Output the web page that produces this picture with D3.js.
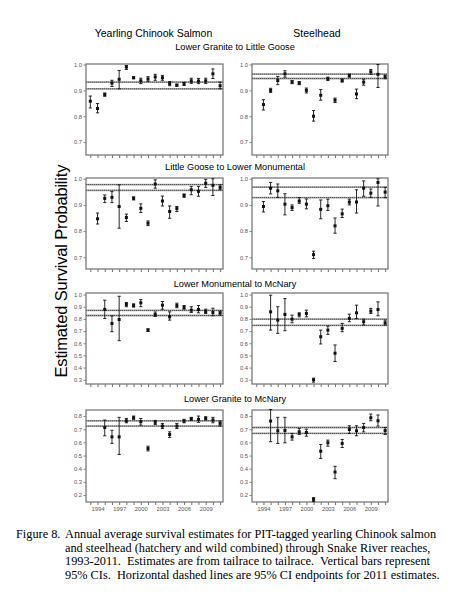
<!DOCTYPE html>
<html>
<head>
<meta charset="utf-8">
<script src="https://cdn.jsdelivr.net/npm/d3@7"></script>
<style>
  body { margin: 0; background: #fff; }
  svg { display: block; }
</style>
</head>
<body>
<svg width="455" height="600"></svg>
<script>
// years 1993-2011
const years = d3.range(1993, 2012);
const labelYears = [1994, 1997, 2000, 2003, 2006, 2009];

const speciesNames = ["Yearling Chinook Salmon", "Steelhead"];
const reachNames = ["Lower Granite to Little Goose", "Little Goose to Lower Monumental",
    "Lower Monumental to McNary", "Lower Granite to McNary"];
const yTicks = [
    [0.7, 0.8, 0.9, 1.0],
    [0.7, 0.8, 0.9, 1.0],
    [0.3, 0.4, 0.5, 0.6, 0.7, 0.8, 0.9, 1.0],
    [0.2, 0.3, 0.4, 0.5, 0.6, 0.7, 0.8]
];

// Lower Granite to Little Goose
const chnLgrLgoEst = [0.858, 0.830, 0.884, 0.928, 0.943, 0.990, 0.949, 0.937, 0.944, 0.952, 0.949, 0.926, 0.920, 0.925, 0.937, 0.936, 0.937, 0.964, 0.918];
const chnLgrLgoLo  = [0.832, 0.813, 0.877, 0.915, 0.906, 0.981, 0.945, 0.926, 0.935, 0.939, 0.939, 0.918, 0.916, 0.919, 0.927, 0.926, 0.927, 0.946, 0.906];
const chnLgrLgoHi  = [0.878, 0.849, 0.890, 0.939, 0.977, 0.996, 0.953, 0.947, 0.953, 0.962, 0.958, 0.934, 0.924, 0.931, 0.947, 0.946, 0.947, 0.983, 0.932];
const sthLgrLgoEst = [0.845, 0.900, 0.938, 0.964, 0.932, 0.928, 0.900, 0.800, 0.881, 0.945, 0.862, 0.938, 0.957, 0.886, 0.932, 0.972, 0.962, 0.953];
const sthLgrLgoLo  = [0.824, 0.892, 0.922, 0.951, 0.926, 0.922, 0.890, 0.781, 0.862, 0.938, 0.853, 0.932, 0.951, 0.868, 0.920, 0.962, 0.911, 0.945];
const sthLgrLgoHi  = [0.864, 0.908, 0.954, 0.976, 0.938, 0.934, 0.909, 0.822, 0.903, 0.951, 0.870, 0.944, 0.963, 0.905, 0.943, 0.981, 1.000, 0.959];

// Little Goose to Lower Monumental
const chnLgoLmnEst = [0.847, 0.925, 0.929, 0.894, 0.852, 0.925, 0.887, 0.830, 0.980, 0.915, 0.875, 0.886, 0.936, 0.958, 0.952, 0.983, 0.975, 0.967];
const chnLgoLmnLo  = [0.827, 0.909, 0.909, 0.811, 0.837, 0.919, 0.871, 0.821, 0.964, 0.896, 0.849, 0.875, 0.929, 0.939, 0.933, 0.967, 0.936, 0.958];
const chnLgoLmnHi  = [0.869, 0.938, 0.951, 0.977, 0.865, 0.931, 0.904, 0.839, 0.996, 0.934, 0.896, 0.894, 0.942, 0.971, 0.971, 0.998, 1.000, 0.977];
const sthLgoLmnEst = [0.894, 0.964, 0.954, 0.903, 0.890, 0.915, 0.903, 0.710, 0.883, 0.897, 0.820, 0.866, 0.911, 0.911, 0.964, 0.945, 0.986, 0.949];
const sthLgoLmnLo  = [0.873, 0.942, 0.929, 0.862, 0.879, 0.906, 0.885, 0.695, 0.847, 0.879, 0.792, 0.852, 0.900, 0.869, 0.933, 0.929, 0.896, 0.928];
const sthLgoLmnHi  = [0.913, 0.986, 0.980, 0.943, 0.900, 0.928, 0.923, 0.723, 0.919, 0.922, 0.850, 0.884, 0.922, 0.958, 0.992, 0.961, 1.000, 0.967];

// Lower Monumental to McNary
const chnLmnMcnEst = [0.878, 0.762, 0.795, 0.919, 0.910, 0.932, 0.708, 0.836, 0.913, 0.817, 0.910, 0.894, 0.872, 0.877, 0.861, 0.853, 0.850];
const chnLmnMcnLo  = [0.803, 0.695, 0.621, 0.900, 0.897, 0.900, 0.697, 0.820, 0.880, 0.790, 0.892, 0.880, 0.853, 0.850, 0.845, 0.826, 0.831];
const chnLmnMcnHi  = [0.954, 0.825, 0.986, 0.935, 0.924, 0.959, 0.719, 0.857, 0.943, 0.858, 0.929, 0.910, 0.900, 0.910, 0.880, 0.888, 0.864];
const sthLmnMcnEst = [0.858, 0.790, 0.837, 0.798, 0.837, 0.845, 0.300, 0.654, 0.708, 0.518, 0.722, 0.804, 0.850, 0.777, 0.864, 0.877, 0.768];
const sthLmnMcnLo  = [0.708, 0.681, 0.703, 0.768, 0.817, 0.817, 0.280, 0.594, 0.673, 0.450, 0.695, 0.777, 0.804, 0.750, 0.845, 0.826, 0.750];
const sthLmnMcnHi  = [0.995, 0.900, 0.967, 0.831, 0.850, 0.872, 0.313, 0.708, 0.741, 0.586, 0.763, 0.839, 0.913, 0.798, 0.886, 0.940, 0.790];

// Lower Granite to McNary
const chnLgrMcnEst = [0.713, 0.642, 0.642, 0.764, 0.787, 0.757, 0.553, 0.752, 0.724, 0.660, 0.724, 0.762, 0.780, 0.775, 0.782, 0.770, 0.744];
const chnLgrMcnLo  = [0.650, 0.592, 0.508, 0.749, 0.775, 0.731, 0.535, 0.736, 0.705, 0.638, 0.705, 0.749, 0.767, 0.752, 0.770, 0.749, 0.724];
const chnLgrMcnHi  = [0.770, 0.692, 0.790, 0.782, 0.800, 0.782, 0.571, 0.767, 0.744, 0.680, 0.744, 0.775, 0.790, 0.800, 0.795, 0.790, 0.762];
const sthLgrMcnEst = [0.762, 0.688, 0.690, 0.642, 0.680, 0.675, 0.167, 0.533, 0.597, 0.375, 0.592, 0.698, 0.688, 0.713, 0.787, 0.764, 0.690];
const sthLgrMcnLo  = [0.605, 0.592, 0.597, 0.617, 0.660, 0.647, 0.150, 0.478, 0.571, 0.324, 0.561, 0.668, 0.650, 0.680, 0.764, 0.724, 0.660];
const sthLgrMcnHi  = [0.850, 0.790, 0.790, 0.668, 0.705, 0.700, 0.180, 0.584, 0.617, 0.418, 0.622, 0.726, 0.726, 0.744, 0.815, 0.808, 0.713];

// first year with an estimate, per panel [chinook, steelhead]
const firstYears = [[1993, 1994], [1994, 1994], [1995, 1995], [1995, 1995]];

// 2011 CI endpoints (horizontal reference lines)
const refLines = [
    [[0.906, 0.932], [0.946, 0.963]],
    [[0.956, 0.978], [0.928, 0.968]],
    [[0.828, 0.870], [0.747, 0.798]],
    [[0.724, 0.764], [0.668, 0.713]]
];

const estimates = [[chnLgrLgoEst, sthLgrLgoEst], [chnLgoLmnEst, sthLgoLmnEst], [chnLmnMcnEst, sthLmnMcnEst], [chnLgrMcnEst, sthLgrMcnEst]];
const lows = [[chnLgrLgoLo, sthLgrLgoLo], [chnLgoLmnLo, sthLgoLmnLo], [chnLmnMcnLo, sthLmnMcnLo], [chnLgrMcnLo, sthLgrMcnLo]];
const highs = [[chnLgrLgoHi, sthLgrLgoHi], [chnLgoLmnHi, sthLgoLmnHi], [chnLmnMcnHi, sthLmnMcnHi], [chnLgrMcnHi, sthLgrMcnHi]];

// layout
const colX = [[86, 223], [252, 388]];
const rowY = [[64, 155], [178, 269], [293, 384], [410, 502]];
const yDomains = [[0.65, 1.002], [0.655, 1.003], [0.265, 1.013], [0.147, 0.846]];
const titleY = [50, 170, 286.5, 401.5];
const sans = "Liberation Sans, Arial, sans-serif";

const svg = d3.select("svg");

svg.selectAll("text.species")
    .data(speciesNames)
    .join("text")
    .attr("class", "species")
    .attr("x", (d, i) => (colX[i][0] + colX[i][1]) / 2 + (i === 0 ? -1 : -3))
    .attr("y", 37)
    .attr("text-anchor", "middle")
    .attr("font-family", sans)
    .attr("font-size", 10.5)
    .text(d => d);

svg.selectAll("text.reach")
    .data(reachNames)
    .join("text")
    .attr("class", "reach")
    .attr("x", 235)
    .attr("y", (d, i) => titleY[i])
    .attr("text-anchor", "middle")
    .attr("font-family", sans)
    .attr("font-size", 9.2)
    .text(d => d);

svg.append("text")
    .attr("transform", "translate(67,271) rotate(-90)")
    .attr("text-anchor", "middle")
    .attr("font-family", sans)
    .attr("font-size", 16.5)
    .attr("textLength", 213)
    .text("Estimated Survival Probability");

function drawPanel(r, c) {
    const [x0, x1] = colX[c];
    const [y0, y1] = rowY[r];
    const x = d3.scaleLinear().domain([1992.4, 2011.4]).range([x0, x1]);
    const y = d3.scaleLinear().domain(yDomains[r]).range([y1, y0]);
    const g = svg.append("g");

    // y axis
    const yAxis = g.append("g")
        .attr("transform", `translate(${x0},0)`)
        .call(d3.axisLeft(y).tickValues(yTicks[r]).tickSize(2.5).tickPadding(1.5).tickFormat(d3.format(".1f")));
    yAxis.select(".domain").remove();
    yAxis.selectAll("line").attr("stroke", "#555").attr("stroke-width", 0.7);
    yAxis.selectAll("text").attr("font-family", sans).attr("font-size", 5.8).attr("fill", "#555");

    // x axis ticks for every year
    const xAxis = g.append("g")
        .attr("transform", `translate(0,${y1})`)
        .call(d3.axisBottom(x).tickValues(years).tickSize(3).tickPadding(2)
            .tickFormat(d => (r === 3 && labelYears.includes(d)) ? String(d) : ""));
    xAxis.select(".domain").remove();
    xAxis.selectAll("line").attr("stroke", "#333").attr("stroke-width", 0.7);
    xAxis.selectAll("text").attr("font-family", sans).attr("font-size", 5.8).attr("fill", "#555");

    // frame
    g.append("rect")
        .attr("x", x0).attr("y", y0)
        .attr("width", x1 - x0).attr("height", y1 - y0)
        .attr("fill", "none")
        .attr("stroke", "#7a7a7a")
        .attr("stroke-width", 1.3);

    // reference lines
    refLines[r][c].forEach(v => {
        g.append("line")
            .attr("x1", x0).attr("x2", x1)
            .attr("y1", y(v)).attr("y2", y(v))
            .attr("stroke", "#aaa").attr("stroke-width", 1.8);
        g.append("line")
            .attr("x1", x0).attr("x2", x1)
            .attr("y1", y(v)).attr("y2", y(v))
            .attr("stroke", "#222").attr("stroke-width", 0.7)
            .attr("stroke-dasharray", "1.2,0.8");
    });

    const est = estimates[r][c];
    const pts = est.map((v, i) => ({
        year: firstYears[r][c] + i,
        est: v,
        lo: lows[r][c][i],
        hi: highs[r][c][i]
    }));

    const bars = g.append("g").attr("stroke", "#111").attr("stroke-width", 0.9);
    pts.forEach(p => {
        const px = x(p.year);
        bars.append("line").attr("x1", px).attr("x2", px).attr("y1", y(p.lo)).attr("y2", y(p.hi));
        bars.append("line").attr("x1", px - 1.6).attr("x2", px + 1.6).attr("y1", y(p.lo)).attr("y2", y(p.lo));
        bars.append("line").attr("x1", px - 1.6).attr("x2", px + 1.6).attr("y1", y(p.hi)).attr("y2", y(p.hi));
    });

    g.selectAll("rect.pt")
        .data(pts)
        .join("rect")
        .attr("class", "pt")
        .attr("x", d => x(d.year) - 1.5)
        .attr("y", d => y(d.est) - 1.5)
        .attr("width", 3)
        .attr("height", 3)
        .attr("fill", "#111");
}

for (let r = 0; r < 4; r++) {
    for (let c = 0; c < 2; c++) drawPanel(r, c);
}

// caption
const captionLines = [
    "Annual average survival estimates for PIT-tagged yearling Chinook salmon",
    "and steelhead (hatchery and wild combined) through Snake River reaches,",
    "1993-2011.  Estimates are from tailrace to tailrace.  Vertical bars represent",
    "95% CIs.  Horizontal dashed lines are 95% CI endpoints for 2011 estimates."
];
const serif = "Liberation Serif, Times New Roman, serif";
svg.append("text")
    .attr("x", 16).attr("y", 538)
    .attr("font-family", serif).attr("font-size", 12.3)
    .text("Figure 8.");
svg.selectAll("text.caption")
    .data(captionLines)
    .join("text")
    .attr("class", "caption")
    .attr("x", 65)
    .attr("y", (d, i) => 538 + i * 13.6)
    .attr("font-family", serif)
    .attr("font-size", 12.3)
    .style("white-space", "pre")
    .attr("xml:space", "preserve")
    .text(d => d);
</script>
</body>
</html>
